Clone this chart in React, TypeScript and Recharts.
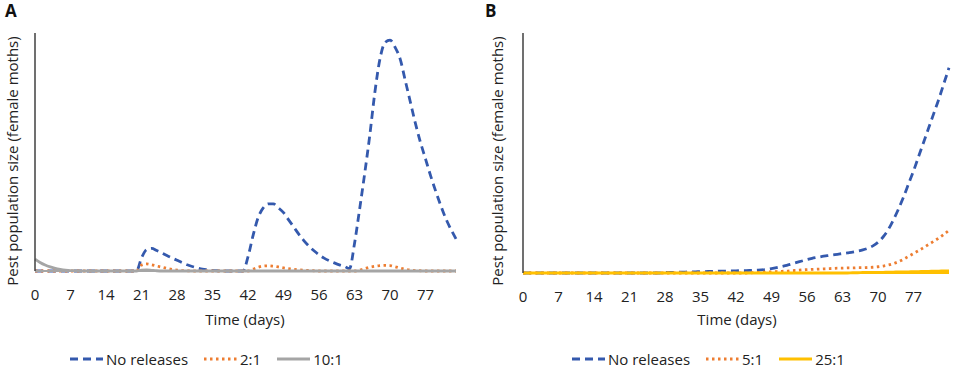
import React from 'react';
import { LineChart, Line, XAxis, YAxis } from 'recharts';

// days on the x axis (panel A runs to day 83, panel B to day 84)
const daysA = Array.from({ length: 84 }, (_, i) => i);
const daysB = Array.from({ length: 85 }, (_, i) => i);
const dayTicks = [0, 7, 14, 21, 28, 35, 42, 49, 56, 63, 70, 77];

// Panel A (relative population size)
const noReleasesA = [
  0, 0, 0, 0, 0, 0, 0, 0, 0, 0, 0, 0, 0, 0, 0, 0, 0, 0, 0, 0, 0,
  5.5, 9.0, 9.5, 8.6, 7.6, 6.5, 5.5, 4.5, 3.5, 2.6, 1.9, 1.3, 0.8, 0.5, 0.25, 0.1, 0, 0, 0, 0, 0,
  6, 15, 22.5, 26.5, 28.2, 28.2, 26.5, 24.5, 21.5, 18.5, 15.5, 12.8, 10.5, 8.5, 6.8, 5.4, 4.3, 3.4, 2.6, 2.0, 1.0,
  11.7, 26, 41, 57, 75, 89, 96, 97, 94, 89, 80, 71, 62, 54, 47, 40, 33.5, 27.5, 22, 17.5, 13.5,
];
const ratio2A = [
  0, 0, 0, 0, 0, 0, 0, 0, 0, 0, 0, 0, 0, 0, 0, 0, 0, 0, 0, 0, 0,
  2.5, 3.0, 2.6, 2.1, 1.6, 1.1, 0.7, 0.4, 0.2, 0.1, 0, 0, 0, 0, 0, 0, 0, 0, 0, 0, 0, 0,
  0.8, 1.6, 2.1, 2.2, 2.0, 1.7, 1.3, 1.0, 0.7, 0.5, 0.3, 0.2, 0.1, 0, 0, 0, 0, 0, 0, 0, 0,
  0.4, 1.0, 1.6, 2.0, 2.3, 2.4, 2.3, 1.8, 1.2, 0.7, 0.4, 0.2, 0.1, 0, 0, 0, 0, 0, 0, 0,
];
const ratio10A = [
  5, 3.6, 2.5, 1.7, 1.1, 0.7, 0.4, 0.2, 0.1, 0, 0, 0, 0, 0, 0, 0, 0, 0, 0, 0, 0,
  0.4, 0.5, 0.3, 0.1, 0, 0, 0, 0, 0, 0, 0, 0, 0, 0, 0, 0, 0, 0, 0, 0, 0,
  0, 0, 0, 0, 0, 0, 0, 0, 0, 0, 0, 0, 0, 0, 0, 0, 0, 0, 0, 0, 0,
  0, 0, 0, 0, 0, 0, 0, 0, 0, 0, 0, 0, 0, 0, 0, 0, 0, 0, 0, 0, 0,
];

// Panel B
const noReleasesB = [
  0, 0, 0, 0, 0, 0, 0, 0, 0, 0, 0, 0, 0, 0, 0, 0, 0, 0, 0, 0, 0, 0, 0, 0, 0, 0, 0, 0,
  0.2, 0.3, 0.3, 0.4, 0.4, 0.5, 0.5, 0.6, 0.6, 0.7, 0.7, 0.8, 0.8, 0.9, 0.9, 1.0, 1.0, 1.1, 1.2, 1.3,
  1.5, 1.8, 2.2, 2.7, 3.2, 3.8, 4.4, 5.0, 5.6, 6.1, 6.5, 6.9, 7.2, 7.5, 7.8, 8.1, 8.4, 8.7, 9.1, 9.6,
  10.3, 11.3, 12.8, 15, 18, 22, 26.5, 31.5, 37, 42.5, 48.5, 54.5, 60.5, 66.5, 72.5, 79, 85.5,
];
const ratio5B = [
  0, 0, 0, 0, 0, 0, 0, 0, 0, 0, 0, 0, 0, 0, 0, 0, 0, 0, 0, 0, 0, 0, 0, 0, 0, 0, 0, 0,
  0, 0, 0, 0, 0, 0, 0, 0, 0, 0, 0, 0, 0, 0, 0, 0, 0, 0.1, 0.2, 0.3,
  0.4, 0.5, 0.6, 0.7, 0.8, 1.0, 1.1, 1.3, 1.4, 1.5, 1.6, 1.7, 1.8, 1.9, 2.0, 2.0, 2.1, 2.1, 2.2, 2.2,
  2.3, 2.4, 2.6, 2.9, 3.3, 3.9, 4.7, 5.7, 6.9, 8.1, 9.3, 10.6, 11.9, 13.2, 14.6, 16.1, 17.8,
];
const ratio25B = [
  0, 0, 0, 0, 0, 0, 0, 0, 0, 0, 0, 0, 0, 0, 0, 0, 0, 0, 0, 0, 0, 0, 0, 0, 0, 0, 0, 0,
  0, 0, 0, 0, 0, 0, 0, 0, 0, 0, 0, 0, 0, 0, 0, 0, 0, 0, 0, 0,
  0, 0, 0, 0, 0, 0, 0, 0, 0, 0, 0, 0, 0, 0, 0, 0, 0, 0.1, 0.1, 0.2,
  0.2, 0.3, 0.3, 0.3, 0.4, 0.4, 0.5, 0.5, 0.5, 0.6, 0.6, 0.7, 0.7, 0.8, 0.8, 0.9, 0.9,
];

const FONT = '"Open Sans", "DejaVu Sans", sans-serif';
const TEXT = '#222';
const AXIS = '#404040';
const BLUE = '#3459ad';
const ORANGE = '#ed7d31';
const GRAY = '#a5a5a5';
const GOLD = '#ffc000';
const DASHED = '8 5';
const DOTTED = '2.5 3.5';

interface SeriesDef {
  key: string;
  name: string;
  color: string;
  dash?: string;
}

const seriesA: SeriesDef[] = [
  { key: 'none', name: 'No releases', color: BLUE, dash: DASHED },
  { key: 'low', name: '2:1', color: ORANGE, dash: DOTTED },
  { key: 'high', name: '10:1', color: GRAY },
];
const seriesB: SeriesDef[] = [
  { key: 'none', name: 'No releases', color: BLUE, dash: DASHED },
  { key: 'low', name: '5:1', color: ORANGE, dash: DOTTED },
  { key: 'high', name: '25:1', color: GOLD },
];

const dataA = daysA.map((day, i) => ({ day, none: noReleasesA[i], low: ratio2A[i], high: ratio10A[i] }));
const dataB = daysB.map((day, i) => ({ day, none: noReleasesB[i], low: ratio5B[i], high: ratio25B[i] }));

const YTitle = ({ px, py }: { px: number; py: number }) => (
  <text
    x={px}
    y={py}
    transform={`rotate(-90 ${px} ${py})`}
    textAnchor="middle"
    dominantBaseline="central"
    fontSize={15}
    fontFamily={FONT}
    fill={TEXT}
  >
    Pest population size (female moths)
  </text>
);

const XTitle = ({ px, py }: { px: number; py: number }) => (
  <text x={px} y={py} textAnchor="middle" dominantBaseline="central" fontSize={15} fontFamily={FONT} fill={TEXT}>
    Time (days)
  </text>
);

interface PanelProps {
  letter: string;
  left: number;
  width: number;
  data: any[];
  series: SeriesDef[];
  maxDay: number;
  yWidth: number;
  right: number;
  xHeight: number;
  xAxisColor: string;
  yTitleX: number;
  xTitleX: number;
  legendLeft: number;
}

const Panel: React.FC<PanelProps> = (p) => (
  <div style={{ position: 'absolute', left: p.left, top: 0, width: p.width, height: 371 }}>
    <LineChart width={p.width} height={371} data={p.data} margin={{ top: 33, right: p.right, bottom: 0, left: 0 }}>
      <XAxis
        type="number"
        dataKey="day"
        domain={[0, p.maxDay]}
        ticks={dayTicks}
        interval={0}
        height={p.xHeight}
        tickLine={false}
        tickMargin={12}
        axisLine={{ stroke: p.xAxisColor, strokeWidth: 2 }}
        tick={{ fontSize: 15, fill: TEXT, fontFamily: FONT }}
        label={<XTitle px={p.xTitleX} py={319} />}
      />
      <YAxis
        domain={[0, 100]}
        width={p.yWidth}
        tick={false}
        tickLine={false}
        axisLine={{ stroke: AXIS, strokeWidth: 1.5 }}
        label={<YTitle px={p.yTitleX} py={161} />}
      />
      {p.series.map((s) => (
        <Line
          key={s.key}
          type="monotone"
          dataKey={s.key}
          name={s.name}
          stroke={s.color}
          strokeWidth={2.8}
          strokeDasharray={s.dash}
          dot={false}
          activeDot={false}
          isAnimationActive={false}
        />
      ))}
    </LineChart>
    <div
      style={{
        position: 'absolute',
        left: 5,
        top: 0,
        fontFamily: FONT,
        fontWeight: 700,
        fontSize: 17,
        lineHeight: '22px',
        color: '#111',
      }}
    >
      {p.letter}
    </div>
    <div
      style={{
        position: 'absolute',
        left: p.legendLeft,
        top: 349,
        display: 'flex',
        alignItems: 'center',
        gap: 16,
        fontFamily: FONT,
        fontSize: 15,
        lineHeight: '20px',
        color: TEXT,
      }}
    >
      {p.series.map((s) => (
        <div key={s.key} style={{ display: 'flex', alignItems: 'center' }}>
          <svg width={33} height={10} style={{ marginRight: 3 }}>
            <line x1={0} y1={5} x2={33} y2={5} stroke={s.color} strokeWidth={2.8} strokeDasharray={s.dash} />
          </svg>
          <span>{s.name}</span>
        </div>
      ))}
    </div>
  </div>
);

export default function App() {
  return (
    <div style={{ position: 'absolute', left: 0, top: 0, width: 957, height: 371, background: '#fff' }}>
      <Panel
        letter="A"
        left={0}
        width={480}
        data={dataA}
        series={seriesA}
        maxDay={83}
        yWidth={35}
        right={24}
        xHeight={100}
        xAxisColor={GRAY}
        yTitleX={12}
        xTitleX={245}
        legendLeft={70}
      />
      <Panel
        letter="B"
        left={480}
        width={477}
        data={dataB}
        series={seriesB}
        maxDay={84}
        yWidth={43}
        right={8}
        xHeight={98}
        xAxisColor={GOLD}
        yTitleX={17}
        xTitleX={257}
        legendLeft={92}
      />
    </div>
  );
}
